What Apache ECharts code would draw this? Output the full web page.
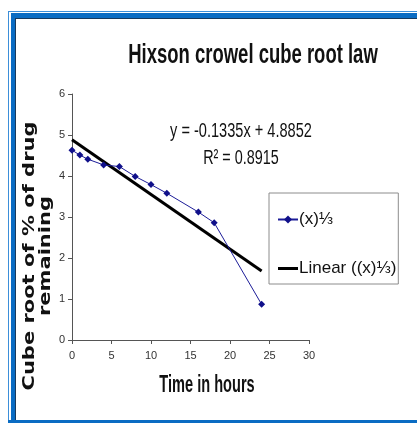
<!DOCTYPE html>
<html>
<head>
<meta charset="utf-8">
<script src="https://cdn.jsdelivr.net/npm/echarts@6/dist/echarts.min.js"></script>
<style>
  html, body { margin: 0; padding: 0; background: #fff; }
  #chart { width: 417px; height: 423px; }
</style>
</head>
<body>
<div id="chart"></div>
<script>
// hours and cube root of % remaining
const hours = [0, 1, 2, 4, 6, 8, 10, 12, 16, 18, 24];
const cubeRoot = [4.63, 4.51, 4.41, 4.27, 4.23, 3.99, 3.79, 3.58, 3.12, 2.86, 0.87];
// trendline ends (y = -0.1335x + 4.8852 at x = 0 and x = 24)
const trendHours = [0, 24];
const trendValues = [4.885, 1.681];

const equationText = 'y = -0.1335x + 4.8852';
const r2Text = 'R\u00b2 = 0.8915';

const narrow = '"Liberation Sans", Arial, sans-serif';
const frameBlue = '#0a6cc3';
const lightBlue = '#3d8fd9';
const darkEdge = '#173a5e';

const chart = echarts.init(document.getElementById('chart'));

const option = {
  backgroundColor: '#fff',
  animation: false,
  grid: { left: 72, top: 94, width: 237, height: 246 },
  legend: {
    orient: 'vertical',
    left: 269,
    top: 193,
    padding: [18, 2, 7, 8],
    itemGap: 32,
    itemWidth: 20,
    itemHeight: 10,
    borderColor: '#8c8c8c',
    borderWidth: 1,
    textStyle: { fontFamily: narrow, fontSize: 17, color: '#111', padding: [0, 0, 0, -4] },
    data: [
      { name: '(x)\u2153' },
      { name: 'Linear ((x)\u2153)', icon: 'path://M0,0L20,0L20,3L0,3Z' }
    ]
  },
  xAxis: {
    type: 'value',
    min: 0,
    max: 30,
    interval: 5,
    splitLine: { show: false },
    axisLine: { lineStyle: { color: '#555', width: 1 } },
    axisTick: { inside: false, length: 4, lineStyle: { color: '#555' } },
    axisLabel: { margin: 10, fontFamily: narrow, fontSize: 11, color: '#333' }
  },
  yAxis: {
    type: 'value',
    min: 0,
    max: 6,
    interval: 1,
    splitLine: { show: false },
    axisLine: { show: true, lineStyle: { color: '#555', width: 1 } },
    axisTick: { show: true, inside: false, length: 4, lineStyle: { color: '#555' } },
    axisLabel: { margin: 7, fontFamily: narrow, fontSize: 11, color: '#333' }
  },
  series: [
    {
      name: '(x)\u2153',
      type: 'line',
      data: hours.map((h, i) => [h, cubeRoot[i]]),
      symbol: 'diamond',
      symbolSize: 7,
      itemStyle: { color: '#10108a' },
      lineStyle: { color: '#1c1c98', width: 1 },
      z: 3
    },
    {
      name: 'Linear ((x)\u2153)',
      type: 'line',
      data: trendHours.map((h, i) => [h, trendValues[i]]),
      symbol: 'none',
      itemStyle: { color: '#000' },
      lineStyle: { color: '#000', width: 3 },
      z: 2
    }
  ],
  graphic: [
    // blue frame along top, left and bottom
    { type: 'rect', z: -10, shape: { x: 8, y: 11, width: 409, height: 1 }, style: { fill: lightBlue } },
    { type: 'rect', z: -10, shape: { x: 8, y: 11, width: 1, height: 412 }, style: { fill: lightBlue } },
    { type: 'rect', z: -10, shape: { x: 11, y: 13, width: 406, height: 5 }, style: { fill: frameBlue } },
    { type: 'rect', z: -10, shape: { x: 11, y: 13, width: 4, height: 407 }, style: { fill: frameBlue } },
    { type: 'rect', z: -10, shape: { x: 15, y: 18, width: 402, height: 1 }, style: { fill: darkEdge } },
    { type: 'rect', z: -10, shape: { x: 15, y: 18, width: 1, height: 402 }, style: { fill: darkEdge } },
    { type: 'rect', z: -10, shape: { x: 8, y: 420, width: 409, height: 3 }, style: { fill: frameBlue } },
    // title, condensed like the original narrow face
    {
      type: 'text', x: 253, y: 55, scaleX: 0.84, scaleY: 1.28,
      style: {
        text: 'Hixson crowel cube root law', fill: '#111',
        fontFamily: narrow, fontSize: 22, fontWeight: 'bold',
        align: 'center', verticalAlign: 'middle', textAlign: 'center', textVerticalAlign: 'middle'
      }
    },
    // trendline equation
    {
      type: 'text', x: 241, y: 131, scaleX: 0.81, scaleY: 1.12,
      style: {
        text: equationText, fill: '#111', fontFamily: narrow, fontSize: 18,
        align: 'center', verticalAlign: 'middle', textAlign: 'center', textVerticalAlign: 'middle'
      }
    },
    {
      type: 'text', x: 241, y: 158, scaleX: 0.8, scaleY: 1.12,
      style: {
        text: r2Text, fill: '#111', fontFamily: narrow, fontSize: 18,
        align: 'center', verticalAlign: 'middle', textAlign: 'center', textVerticalAlign: 'middle'
      }
    },
    // x axis name
    {
      type: 'text', x: 207, y: 386, scaleX: 0.81, scaleY: 1.3,
      style: {
        text: 'Time in hours', fill: '#111', fontFamily: narrow, fontSize: 18, fontWeight: 'bold',
        align: 'center', verticalAlign: 'middle', textAlign: 'center', textVerticalAlign: 'middle'
      }
    },
    // y axis name, stretched along its length
    {
      type: 'text', x: 38, y: 256, rotation: Math.PI / 2, scaleX: 1.4,
      style: {
        text: 'Cube root of % of drug\nremaining', fill: '#111',
        fontFamily: '"DejaVu Sans", sans-serif', fontSize: 15, fontWeight: 'bold', lineHeight: 16,
        align: 'center', verticalAlign: 'middle', textAlign: 'center', textVerticalAlign: 'middle'
      }
    }
  ]
};

chart.setOption(option);
</script>
</body>
</html>
